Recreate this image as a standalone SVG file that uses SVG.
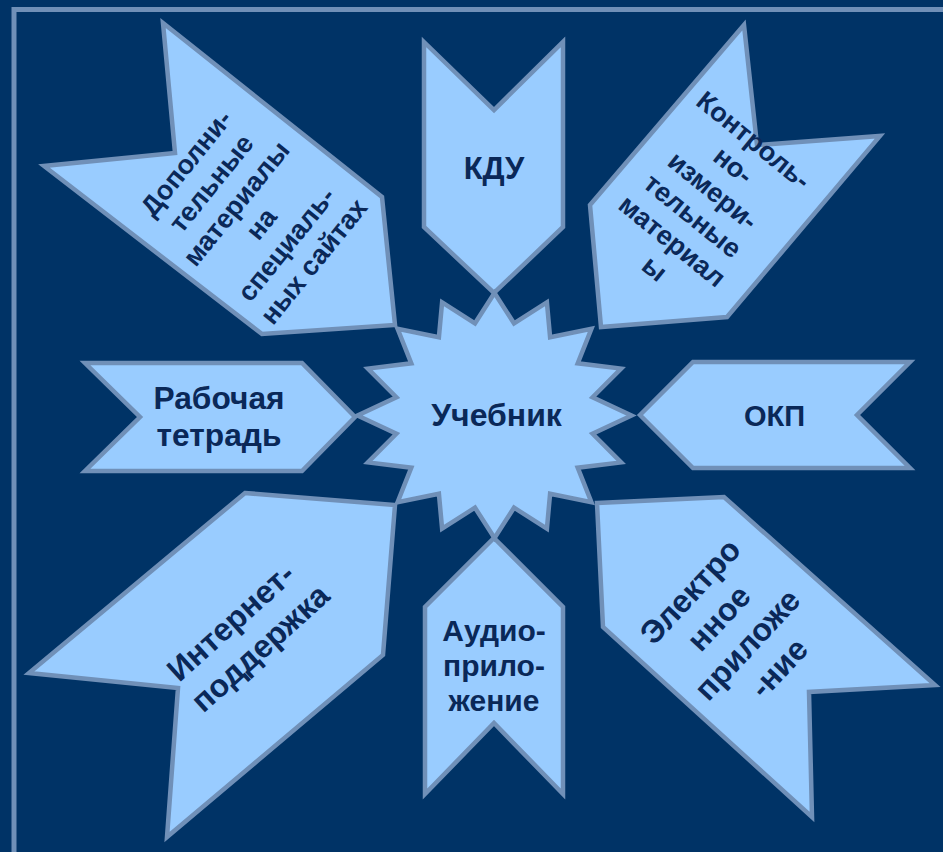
<svg xmlns="http://www.w3.org/2000/svg" width="943" height="852" viewBox="0 0 943 852">
  <style>
    .shape { fill: #99CCFF; stroke: #7090B8; stroke-width: 4.5; stroke-linejoin: miter; stroke-miterlimit: 10; }
    .lbl { font-family: "Liberation Sans", Arial, sans-serif; font-weight: bold; fill: #0A2858; text-anchor: middle; }
  </style>
  <rect x="0" y="0" width="943" height="852" fill="#003366"/>
  <rect id="frame" x="14" y="9.5" width="1000" height="1000" fill="none" stroke="#7090B8" stroke-width="5"/>
  <g id="connectors"/>

  <g id="node-kdu">
    <polygon class="shape" points="424,42 494,110 563,42 563,227 494,293 424,227"/>
    <text class="lbl" x="494" y="179" font-size="31">КДУ</text>
  </g>

  <g id="node-audio">
    <polygon class="shape" points="494,538 563,607 563,794 494,723 425,794 425,607"/>
    <text class="lbl" x="494" font-size="30"><tspan x="494" y="641">Аудио-</tspan><tspan x="494" y="676">прило-</tspan><tspan x="494" y="711">жение</tspan></text>
  </g>

  <g id="node-workbook">
    <polygon class="shape" points="85,363 302,363 355,417 302,471 85,471 140,417"/>
    <text class="lbl" font-size="31.7"><tspan x="219" y="409">Рабочая</tspan><tspan x="219" y="446">тетрадь</tspan></text>
  </g>

  <g id="node-okp">
    <polygon class="shape" points="640,415 693,362 910,362 857,415 910,468 693,468"/>
    <text class="lbl" x="774.5" y="426" font-size="29">ОКП</text>
  </g>

  <g id="node-extra">
    <polygon class="shape" points="163,23 382,197 395,325 262,334 44,166 175,153"/>
    <g transform="translate(252,211.5) rotate(-51)">
      <text class="lbl" font-size="27">
        <tspan x="0" y="-72.5">Дополни-</tspan>
        <tspan x="0" y="-40.3">тельные</tspan>
        <tspan x="0" y="-8.1">материалы</tspan>
        <tspan x="0" y="24.1">на</tspan>
        <tspan x="0" y="56.3">специаль-</tspan>
        <tspan x="0" y="88.5">ных сайтах</tspan>
      </text>
    </g>
  </g>

  <g id="node-control">
    <polygon class="shape" points="744,25 757,145 880,136 727,317 601,327 590,205"/>
    <g transform="translate(705,206.5) rotate(39)">
      <text class="lbl" font-size="27">
        <tspan x="0" y="-73">Контроль-</tspan>
        <tspan x="0" y="-40.6">но-</tspan>
        <tspan x="0" y="-8.2">измери-</tspan>
        <tspan x="0" y="24.2">тельные</tspan>
        <tspan x="0" y="56.6">материал</tspan>
        <tspan x="0" y="89">ы</tspan>
      </text>
    </g>
  </g>

  <g id="node-internet">
    <polygon class="shape" points="245,493 395,505 383,655 167,837 178,688 29,673"/>
    <g transform="translate(248,634.5) rotate(-42)">
      <text class="lbl" font-size="32">
        <tspan x="0" y="-9.9">Интернет-</tspan>
        <tspan x="0" y="29.1">поддержка</tspan>
      </text>
    </g>
  </g>

  <g id="node-electronic">
    <polygon class="shape" points="597,503 724,497 935,685 809,692 812,817 603,627"/>
    <g transform="translate(737,629) rotate(-47)">
      <text class="lbl" font-size="32">
        <tspan x="0" y="-48.9">Электро</tspan>
        <tspan x="0" y="-9.9">нное</tspan>
        <tspan x="0" y="29.1">приложе</tspan>
        <tspan x="0" y="68.1">-ние</tspan>
      </text>
    </g>
  </g>

  <g id="node-textbook">
    <polygon class="shape" points="494.5,293 514,323.3 546.9,302.3 550.1,337.3 591.4,328.9 577.7,363.3 621.1,368.6 592.6,397.2 631.5,415.5 592.6,433.8 621.1,462.4 577.7,467.7 591.4,502.1 550.1,493.7 546.9,528.7 514,507.7 494.5,538 475,507.7 442.1,528.7 438.9,493.7 397.6,502.1 411.3,467.7 367.9,462.4 396.4,433.8 357.5,415.5 396.4,397.2 367.9,368.6 411.3,363.3 397.6,328.9 438.9,337.3 442.1,302.3 475,323.3"/>
    <text class="lbl" x="496.5" y="426" font-size="32">Учебник</text>
  </g>
</svg>
